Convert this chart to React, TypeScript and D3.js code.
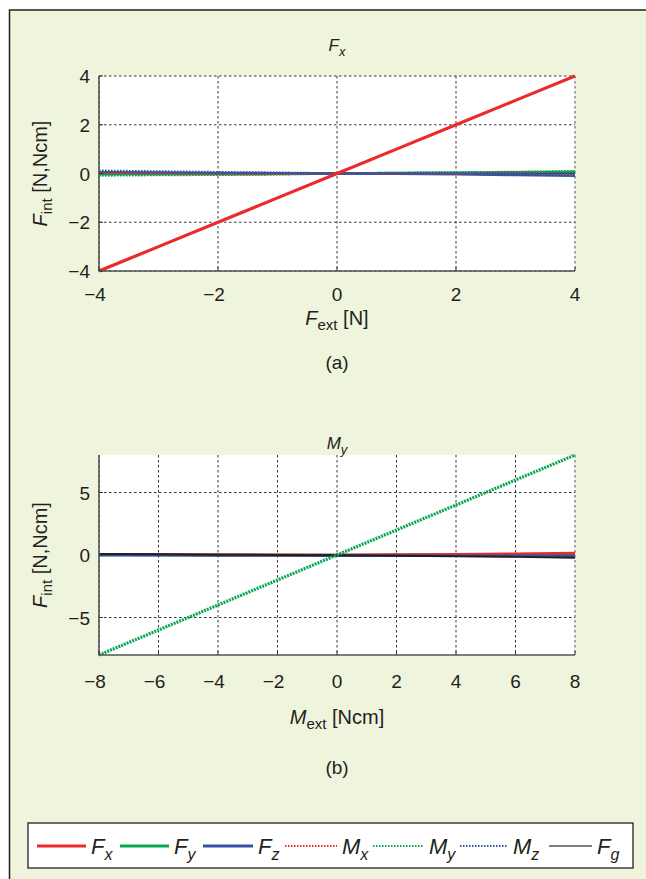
import React from "react";
import * as d3 from "d3";

// ---------- data ----------
const xA = [-4, -3, -2, -1, 0, 1, 2, 3, 4];
const aFx = [-4, -3, -2, -1, 0, 1, 2, 3, 4];
const aFy = [-0.03, -0.03, -0.03, -0.02, 0, 0.02, 0.03, 0.05, 0.07];
const aFz = [0.05, 0.04, 0.02, 0.01, 0, -0.01, -0.03, -0.06, -0.09];
const aMx = [0.02, 0.01, 0.0, -0.01, 0, 0.0, -0.01, 0.04, -0.03];
const aMy = [-0.08, -0.06, -0.05, -0.03, 0, 0.02, 0.04, 0.06, 0.09];
const aMz = [0.11, 0.08, 0.05, 0.03, 0, 0.01, 0.02, 0.0, -0.02];
const aFg = [-0.02, -0.02, -0.01, -0.01, 0, 0.01, 0.01, 0.02, 0.02];

const xB = [-8, -6, -4, -2, 0, 2, 4, 6, 8];
const bFx = [0.05, 0.04, 0.02, 0.01, 0, 0.03, 0.06, 0.1, 0.16];
const bFy = [0.02, 0.02, 0.01, 0.0, 0, 0.0, 0.01, 0.02, 0.03];
const bFz = [-0.02, -0.02, -0.03, -0.04, -0.05, -0.05, -0.06, -0.07, -0.08];
const bMx = [0.03, 0.02, 0.01, 0.0, 0, -0.01, 0.0, 0.02, 0.04];
const bMy = [-8, -6, -4, -2, 0, 2, 4, 6, 8];
const bMz = [0.0, -0.01, -0.02, -0.02, -0.03, -0.03, -0.04, -0.05, -0.06];
const bFg = [0.08, 0.06, 0.03, 0.0, -0.02, -0.06, -0.1, -0.15, -0.22];

const xTicksA = [-4, -2, 0, 2, 4];
const yTicksA = [-4, -2, 0, 2, 4];
const xTicksB = [-8, -6, -4, -2, 0, 2, 4, 6, 8];
const yTicksB = [-5, 0, 5];

const legendNames = [
  ["F", "x"],
  ["F", "y"],
  ["F", "z"],
  ["M", "x"],
  ["M", "y"],
  ["M", "z"],
  ["F", "g"],
];

// ---------- styles ----------
const RED = "#ec2a2c";
const GREEN = "#0aa650";
const BLUE = "#3653a3";
const BLACK = "#231f20";
const BG = "#eff4dd";
const FONT = "'Liberation Sans', Arial, Helvetica, sans-serif";

function styleFor(i: number): { color: string; dotted: boolean } {
  const colors = [RED, GREEN, BLUE, RED, GREEN, BLUE, BLACK];
  return { color: colors[i], dotted: i >= 3 && i <= 5 };
}

function Panel(props: {
  x0: number;
  x1: number;
  y0: number;
  y1: number;
  xd: [number, number];
  yd: [number, number];
  xs: number[];
  series: number[][];
  mainIdx: number;
  order: number[];
  xTicks: number[];
  yTicks: number[];
  title: [string, string];
  titleY: number;
  xLabel: [string, string, string];
  xTickY: number;
  xLabelY: number;
  yLabelX: number;
  caption: string;
  captionY: number;
}) {
  const p = props;
  const x = d3.scaleLinear().domain(p.xd).range([p.x0, p.x1]);
  const y = d3.scaleLinear().domain(p.yd).range([p.y1, p.y0]);
  const cx = (p.x0 + p.x1) / 2;
  const cy = (p.y0 + p.y1) / 2;
  const fmt = (v: number) => (v < 0 ? "\u2212" + Math.abs(v) : String(v));
  return (
    <g>
      <rect x={p.x0} y={p.y0} width={p.x1 - p.x0} height={p.y1 - p.y0} fill="#fff" />
      {p.xTicks.map((t) => (
        <line
          key={"gx" + t}
          x1={x(t)}
          x2={x(t)}
          y1={p.y0}
          y2={p.y1}
          stroke={t === p.xd[1] ? "#777" : BLACK}
          strokeWidth={t === p.xd[1] ? 1.3 : 0.9}
          strokeDasharray="2.5,2.5"
        />
      ))}
      {p.yTicks.map((t) => (
        <line
          key={"gy" + t}
          x1={p.x0}
          x2={p.x1}
          y1={y(t)}
          y2={y(t)}
          stroke={BLACK}
          strokeWidth={0.9}
          strokeDasharray="2.5,2.5"
        />
      ))}
      <g>
        {p.order.map((i) => {
          const st = styleFor(i);
          const line = d3
            .line<number>()
            .x((_, k) => x(p.xs[k]))
            .y((v) => y(v));
          const isMain = i === p.mainIdx;
          return (
            <path
              key={"s" + i}
              d={line(p.series[i]) || ""}
              fill="none"
              stroke={st.color}
              strokeWidth={isMain ? 3.2 : i === 6 ? 2 : 2.6}
              strokeDasharray={st.dotted ? (isMain ? "2,1" : "1.6,1.4") : undefined}
              strokeLinecap="butt"
            />
          );
        })}
      </g>
      <line x1={p.x0} x2={p.x0} y1={p.y0} y2={p.y1 + 0.5} stroke="#555" strokeWidth={1.6} />
      <line x1={p.x0} x2={p.x1} y1={p.y1} y2={p.y1} stroke="#555" strokeWidth={1.6} />
      {p.xTicks.map((t) => (
        <line key={"tx" + t} x1={x(t)} x2={x(t)} y1={p.y1} y2={p.y1 - 4} stroke="#333" strokeWidth={1} />
      ))}
      {p.yTicks.map((t) => (
        <line key={"ty" + t} x1={p.x0} x2={p.x0 + 4} y1={y(t)} y2={y(t)} stroke="#333" strokeWidth={1} />
      ))}
      {p.xTicks.map((t) => (
        <text
          key={"lx" + t}
          x={x(t) - (t < 0 ? 4 : 0)}
          y={p.xTickY}
          textAnchor="middle"
          fontSize={19}
          fill={BLACK}
          fontFamily={FONT}
        >
          {fmt(t)}
        </text>
      ))}
      {p.yTicks.map((t) => (
        <text
          key={"ly" + t}
          x={p.x0 - 9}
          y={y(t) + 7}
          textAnchor="end"
          fontSize={19}
          fill={BLACK}
          fontFamily={FONT}
        >
          {fmt(t)}
        </text>
      ))}
      <text x={cx} y={p.titleY} textAnchor="middle" fontSize={17} fill={BLACK} fontFamily={FONT} fontStyle="italic">
        {p.title[0]}
        <tspan dy={5} fontSize={13}>
          {p.title[1]}
        </tspan>
      </text>
      <text x={cx} y={p.xLabelY} textAnchor="middle" fontSize={20} fill={BLACK} fontFamily={FONT}>
        <tspan fontStyle="italic">{p.xLabel[0]}</tspan>
        <tspan dy={5} fontSize={15}>
          {p.xLabel[1]}
        </tspan>
        <tspan dy={-5}>{p.xLabel[2]}</tspan>
      </text>
      <text
        transform={`translate(${p.yLabelX},${cy}) rotate(-90)`}
        textAnchor="middle"
        fontSize={20}
        fill={BLACK}
        fontFamily={FONT}
      >
        <tspan fontStyle="italic">F</tspan>
        <tspan dy={5} fontSize={15}>
          int
        </tspan>
        <tspan dy={-5}> [N,Ncm]</tspan>
      </text>
      <text x={cx} y={p.captionY} textAnchor="middle" fontSize={19} fill={BLACK} fontFamily={FONT}>
        {p.caption}
      </text>
    </g>
  );
}

function Legend() {
  const lx = [37, 120, 203, 285, 373, 460, 549];
  const lw = [49, 49, 50, 52, 51, 48, 43];
  const ly = 846;
  return (
    <g>
      <rect x={28} y={823} width={605} height={45} fill="#fff" stroke={BLACK} strokeWidth={1.3} />
      {legendNames.map((n, i) => {
        const st = styleFor(i);
        return (
          <g key={"lg" + i}>
            <line
              x1={lx[i]}
              x2={lx[i] + lw[i]}
              y1={ly}
              y2={ly}
              stroke={i === 6 ? "#555" : st.color}
              strokeWidth={st.dotted ? 2 : i === 6 ? 1.6 : 2.8}
              strokeDasharray={st.dotted ? "1.5,1.5" : undefined}
            />
            <text
              x={lx[i] + lw[i] + 5}
              y={ly + 8}
              fontSize={22}
              fontStyle="italic"
              fill={BLACK}
              fontFamily={FONT}
            >
              {n[0]}
              <tspan dy={6} fontSize={16}>
                {n[1]}
              </tspan>
            </text>
          </g>
        );
      })}
    </g>
  );
}

export default function App() {
  return (
    <svg
      width={646}
      height={879}
      style={{ position: "absolute", left: 0, top: 0, display: "block" }}
    >
      <rect x={0} y={0} width={646} height={879} fill="#fff" />
      <rect x={9.5} y={10} width={660} height={900} fill={BG} stroke={BLACK} strokeWidth={1.5} />
      <Panel
        x0={99}
        x1={575}
        y0={76}
        y1={271}
        xd={[-4, 4]}
        yd={[-4, 4]}
        xs={xA}
        series={[aFx, aFy, aFz, aMx, aMy, aMz, aFg]}
        mainIdx={0}
        order={[6, 1, 4, 2, 3, 5, 0]}
        xTicks={xTicksA}
        yTicks={yTicksA}
        title={["F", "x"]}
        titleY={51}
        xLabel={["F", "ext", " [N]"]}
        xTickY={301}
        xLabelY={325}
        yLabelX={47}
        caption="(a)"
        captionY={369}
      />
      <Panel
        x0={99}
        x1={575}
        y0={455}
        y1={655}
        xd={[-8, 8]}
        yd={[-8, 8]}
        xs={xB}
        series={[bFx, bFy, bFz, bMx, bMy, bMz, bFg]}
        mainIdx={4}
        order={[1, 3, 5, 0, 2, 6, 4]}
        xTicks={xTicksB}
        yTicks={yTicksB}
        title={["M", "y"]}
        titleY={449}
        xLabel={["M", "ext", " [Ncm]"]}
        xTickY={688}
        xLabelY={724}
        yLabelX={47}
        caption="(b)"
        captionY={774}
      />
      <Legend />
    </svg>
  );
}
